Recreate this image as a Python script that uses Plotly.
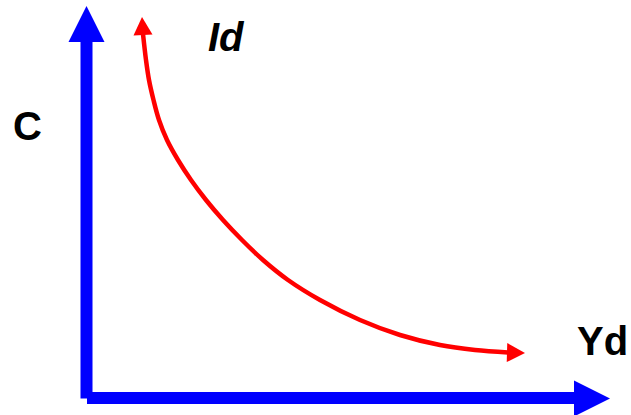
import plotly.graph_objects as go

# Curve Id (pixel-like coordinate space, y grows downward)
curve_x = [143, 146, 149, 153.5, 159, 167, 178, 191, 206, 223, 242, 263, 288, 320, 360, 400, 440, 475, 508]
curve_y = [34, 60, 80, 100, 120, 140, 160, 180, 200, 220, 240, 260, 280, 300, 320, 335, 345, 350, 352.5]

# Axis endpoints
axis_origin = (86.5, 398)
y_axis_tip = (86.5, 6)
x_axis_tip = (610, 398.5)

labels = ["C", "Yd", "Id"]
label_x = [27, 602, 226]
label_y = [126, 341, 37]

BLUE = "#0000FF"
RED = "#FF0000"

fig = go.Figure()

# Red curve
fig.add_trace(go.Scatter(x=curve_x, y=curve_y, mode="lines",
                         line=dict(color=RED, width=4.5, shape="spline", smoothing=1.0),
                         hoverinfo="skip", showlegend=False))


def tri(tip, base_c, hw):
    tx, ty = tip
    bx, by = base_c
    dx, dy = tx - bx, ty - by
    L = (dx * dx + dy * dy) ** 0.5
    nx, ny = -dy / L, dx / L
    p1 = (bx + nx * hw, by + ny * hw)
    p2 = (bx - nx * hw, by - ny * hw)
    return f"M {tx},{ty} L {p1[0]},{p1[1]} L {p2[0]},{p2[1]} Z"


shapes = []
# Blue axes shafts
shapes.append(dict(type="line", x0=axis_origin[0], y0=axis_origin[1] + 0.5, x1=y_axis_tip[0], y1=40,
                   line=dict(color=BLUE, width=12)))
shapes.append(dict(type="line", x0=axis_origin[0] + 0.5, y0=axis_origin[1], x1=576, y1=x_axis_tip[1] - 0.5,
                   line=dict(color=BLUE, width=12)))
# Blue arrowheads
shapes.append(dict(type="path", path=tri(y_axis_tip, (86.5, 42), 18), fillcolor=BLUE,
                   line=dict(width=0)))
shapes.append(dict(type="path", path=tri(x_axis_tip, (574, 398.5), 18), fillcolor=BLUE,
                   line=dict(width=0)))
# Red arrowheads
shapes.append(dict(type="path", path=tri((142, 17), (143, 35), 9.5), fillcolor=RED,
                   line=dict(width=0)))
shapes.append(dict(type="path", path=tri((525, 353), (507, 352.5), 9.5), fillcolor=RED,
                   line=dict(width=0)))

fig.update_layout(shapes=shapes)

for t, x, y in zip(labels, label_x, label_y):
    txt = f"<b><i>{t}</i></b>" if t == "Id" else f"<b>{t}</b>"
    fig.add_annotation(x=x, y=y, text=txt, showarrow=False, xanchor="center", yanchor="middle",
                       font=dict(family="Liberation Sans, Arial", size=40, color="black"))

fig.update_xaxes(range=[0, 631], visible=False, fixedrange=True)
fig.update_yaxes(range=[415, 0], visible=False, fixedrange=True)
fig.update_layout(width=631, height=415, margin=dict(l=0, r=0, t=0, b=0),
                  plot_bgcolor="white", paper_bgcolor="white")

fig.write_html("out.html", config={"displayModeBar": False},
               post_script="document.body.style.margin='0';document.body.style.overflow='hidden';")
